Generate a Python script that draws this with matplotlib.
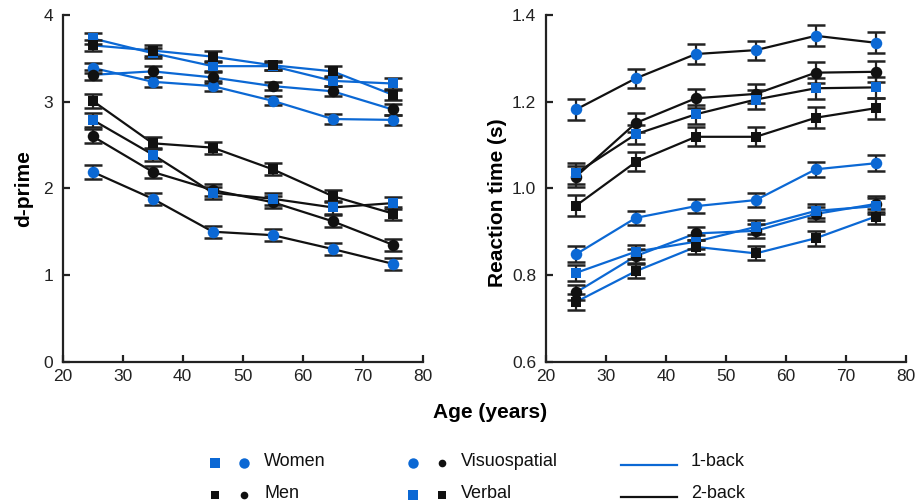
import matplotlib
matplotlib.use("Agg")
import matplotlib.pyplot as plt
from matplotlib.lines import Line2D

plt.rcParams['font.family'] = ['Liberation Sans', 'DejaVu Sans']

ages = [25, 35, 45, 55, 65, 75]

# d-prime values
dp_w_vis_1 = [3.39, 3.23, 3.18, 3.01, 2.80, 2.79]
dp_m_vis_1 = [3.31, 3.35, 3.28, 3.18, 3.12, 2.91]
dp_w_ver_1 = [3.73, 3.56, 3.41, 3.41, 3.24, 3.21]
dp_m_ver_1 = [3.65, 3.59, 3.52, 3.42, 3.35, 3.08]
dp_w_vis_2 = [2.19, 1.88, 1.50, 1.46, 1.30, 1.13]
dp_m_vis_2 = [2.60, 2.19, 1.98, 1.84, 1.62, 1.35]
dp_w_ver_2 = [2.79, 2.39, 1.95, 1.88, 1.78, 1.83]
dp_m_ver_2 = [3.01, 2.52, 2.47, 2.22, 1.91, 1.71]
dp_err_1 = [0.06, 0.06, 0.06, 0.05, 0.06, 0.06]
dp_err_2 = [0.08, 0.07, 0.07, 0.07, 0.07, 0.07]

# reaction time values (s)
rt_w_vis_1 = [0.848, 0.932, 0.959, 0.973, 1.044, 1.058]
rt_m_vis_1 = [0.760, 0.844, 0.896, 0.902, 0.941, 0.964]
rt_w_ver_1 = [0.805, 0.854, 0.877, 0.911, 0.948, 0.959]
rt_m_ver_1 = [0.738, 0.809, 0.865, 0.850, 0.885, 0.935]
rt_w_vis_2 = [1.182, 1.254, 1.310, 1.319, 1.352, 1.336]
rt_m_vis_2 = [1.027, 1.151, 1.208, 1.218, 1.267, 1.269]
rt_w_ver_2 = [1.035, 1.125, 1.171, 1.205, 1.231, 1.233]
rt_m_ver_2 = [0.960, 1.061, 1.119, 1.119, 1.163, 1.185]
rt_err_1 = [0.018, 0.016, 0.016, 0.016, 0.017, 0.018]
rt_err_2 = [0.024, 0.022, 0.022, 0.022, 0.024, 0.024]

BLUE = '#0b68d4'
BLACK = '#111111'
ECOL = '#222222'

def series_list(w_vis_1, m_vis_1, w_ver_1, m_ver_1, w_vis_2, m_vis_2, w_ver_2, m_ver_2, e1, e2):
    # (values, errors, marker, marker color, line color)
    return [
        (w_vis_2, e2, 'o', BLUE, BLACK),
        (m_vis_2, e2, 'o', BLACK, BLACK),
        (w_ver_2, e2, 's', BLUE, BLACK),
        (m_ver_2, e2, 's', BLACK, BLACK),
        (w_vis_1, e1, 'o', BLUE, BLUE),
        (m_vis_1, e1, 'o', BLACK, BLUE),
        (w_ver_1, e1, 's', BLUE, BLUE),
        (m_ver_1, e1, 's', BLACK, BLUE),
    ]

fig = plt.figure(figsize=(9.22, 5.04), dpi=100)
axL = fig.add_axes([0.068, 0.2823, 0.3905, 0.6879])
axR = fig.add_axes([0.5922, 0.2823, 0.3901, 0.6879])

def draw(ax, series):
    for vals, err, mk, mc, lc in series:
        ax.plot(ages, vals, color=lc, lw=1.6, zorder=2)
    for vals, err, mk, mc, lc in series:
        ax.errorbar(ages, vals, yerr=err, fmt='none', ecolor=ECOL, elinewidth=1.6,
                    capsize=6.5, capthick=1.8, zorder=3)
    for vals, err, mk, mc, lc in series:
        ax.plot(ages, vals, linestyle='none', marker=mk, color=mc,
                markersize=8.3 if mk == 'o' else 7.8, markeredgewidth=0, zorder=4)
    for s in ['top', 'right']:
        ax.spines[s].set_visible(False)
    for s in ['left', 'bottom']:
        ax.spines[s].set_linewidth(1.6)
        ax.spines[s].set_color('#222222')
    ax.set_xlim(20, 80)
    ax.set_xticks([20, 30, 40, 50, 60, 70, 80])
    ax.tick_params(axis='both', direction='in', length=5, width=1.6, color='#222222',
                   labelsize=12.5, labelcolor='#222222')
    ax.tick_params(axis='y', pad=7)
    ax.tick_params(axis='x', pad=5)

draw(axL, series_list(dp_w_vis_1, dp_m_vis_1, dp_w_ver_1, dp_m_ver_1,
                      dp_w_vis_2, dp_m_vis_2, dp_w_ver_2, dp_m_ver_2, dp_err_1, dp_err_2))
axL.set_ylim(0, 4)
axL.set_yticks([0, 1, 2, 3, 4])
axL.set_ylabel('d-prime', fontsize=15, fontweight='bold')
axL.yaxis.set_label_coords(-0.083, 0.5)

draw(axR, series_list(rt_w_vis_1, rt_m_vis_1, rt_w_ver_1, rt_m_ver_1,
                      rt_w_vis_2, rt_m_vis_2, rt_w_ver_2, rt_m_ver_2, rt_err_1, rt_err_2))
axR.set_ylim(0.6, 1.4)
axR.set_yticks([0.6, 0.8, 1.0, 1.2, 1.4])
axR.set_yticklabels(['0.6', '0.8', '1.0', '1.2', '1.4'])
axR.set_ylabel('Reaction time (s)', fontsize=15, fontweight='bold')
axR.yaxis.set_label_coords(-0.108, 0.46)

fig.text(490 / 922, 1 - 412 / 504, 'Age (years)', fontsize=15, fontweight='bold',
         ha='center', va='center')

# Legend (manual, figure coordinates)
W, H = 922, 504
def fx(px): return px / W
def fy(py): return 1 - py / H

def mark(px, py, mk, col, ms):
    fig.add_artist(Line2D([fx(px)], [fy(py)], transform=fig.transFigure,
                          marker=mk, color=col, markersize=ms, markeredgewidth=0,
                          linestyle='none'))

def label(px, py, txt):
    fig.text(fx(px), fy(py), txt, fontsize=13, ha='left', va='center', color='#111111')

r1, r2 = 463, 495
# column 1
mark(215, r1, 's', BLUE, 7); mark(244, r1, 'o', BLUE, 7.5); label(264, r1 - 2, 'Women')
mark(215, r2, 's', BLACK, 5.5); mark(244, r2, 'o', BLACK, 5.5); label(264, r2 - 2, 'Men')
# column 2
mark(413, r1, 'o', BLUE, 7.5); mark(442, r1, 'o', BLACK, 5.5); label(461, r1 - 2, 'Visuospatial')
mark(413, r2, 's', BLUE, 7); mark(442, r2, 's', BLACK, 5.5); label(461, r2 - 2, 'Verbal')
# column 3
fig.add_artist(Line2D([fx(621), fx(677)], [fy(r1 + 2), fy(r1 + 2)], transform=fig.transFigure,
                      color=BLUE, lw=1.6))
fig.add_artist(Line2D([fx(621), fx(677)], [fy(r2 + 2), fy(r2 + 2)], transform=fig.transFigure,
                      color=BLACK, lw=1.6))
label(691, r1 - 2, '1-back')
label(691, r2 - 2, '2-back')

fig.savefig('out.png', dpi=100)
